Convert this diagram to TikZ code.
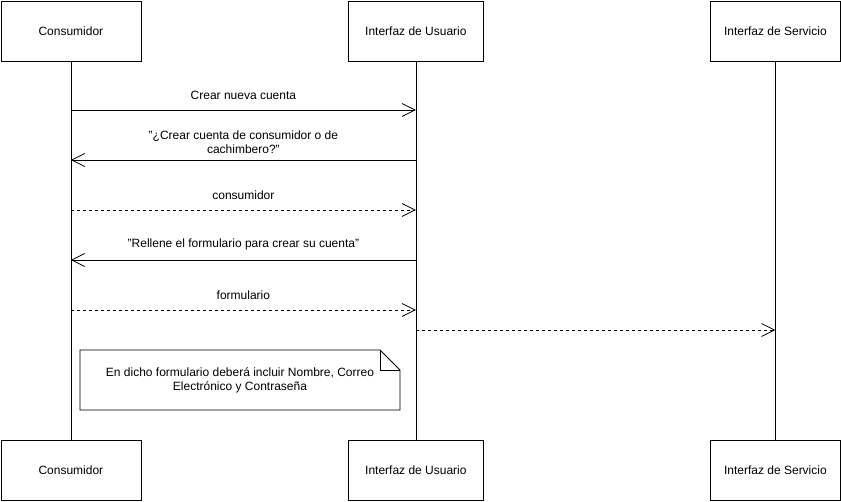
\documentclass[tikz,border=0pt]{standalone}
\usepackage{fontspec}
\setmainfont{Liberation Sans}
\usetikzlibrary{arrows.meta}
\begin{document}
\begin{tikzpicture}[x=1pt,y=-1pt,
  font=\fontsize{12}{14}\selectfont,
  actor/.style={draw,line width=0.8pt,minimum width=140pt,minimum height=60pt,inner sep=0pt,anchor=north west},
  actorS/.style={actor,minimum width=130pt},
  life/.style={line width=0.8pt},
  msg/.style={line width=0.8pt,-{Straight Barb[length=13pt,width=13pt,line width=0.8pt]}},
  ret/.style={msg,dash pattern=on 3pt off 3pt},
  lbl/.style={inner sep=0pt,align=center}
]
\useasboundingbox (0,0) rectangle (841,501);
% actors top
\node[actor] (c1) at (0.5,0.5) {Consumidor};
\node[actor,minimum width=135pt] (u1) at (348,0.5) {Interfaz de Usuario};
\node[actorS] (s1) at (710,0.5) {Interfaz de Servicio};
% actors bottom
\node[actor] (c2) at (0.5,440) {Consumidor};
\node[actor,minimum width=135pt] (u2) at (348,440) {Interfaz de Usuario};
\node[actorS] (s2) at (710,440) {Interfaz de Servicio};
% lifelines
\draw[life] (c1.south) -- (c2.north);
\draw[life] (u1.south) -- (u2.north);
\draw[life] (s1.south) -- (s2.north);
% message points
\coordinate (ca) at (c1.south |- 0,110);
\coordinate (ua) at (u1.south |- 0,110);
\coordinate (cb) at (c1.south |- 0,160);
\coordinate (ub) at (u1.south |- 0,160);
\coordinate (cc) at (c1.south |- 0,210);
\coordinate (uc) at (u1.south |- 0,210);
\coordinate (cd) at (c1.south |- 0,260);
\coordinate (ud) at (u1.south |- 0,260);
\coordinate (ce) at (c1.south |- 0,310);
\coordinate (ue) at (u1.south |- 0,310);
\coordinate (uf) at (u1.south |- 0,330);
\coordinate (sf) at (s1.south |- 0,330);
% messages
\draw[msg] (ca) -- node[lbl,above=10pt] (la) {Crear nueva cuenta} (ua);
\draw[msg] (ub) -- node[lbl,above=6pt] (lb) {"¿Crear cuenta de consumidor o de\\cachimbero?"} (cb);
\draw[ret] (cc) -- node[lbl,above=10pt] (lc) {consumidor} (uc);
\draw[msg] (ud) -- node[lbl,above=10pt] (ld) {"Rellene el formulario para crear su cuenta"} (cd);
\draw[ret] (ce) -- node[lbl,above=10pt] (le) {formulario} (ue);
\draw[ret] (uf) -- (sf);
% note
\draw[line width=0.8pt,fill=white] (80,350) -- (380,350) -- (400,370) -- (400,410) -- (80,410) -- cycle;
\draw[line width=0.8pt] (380,350) -- (380,370) -- (400,370);
\node[lbl] (note) at (240,380) {En dicho formulario deberá incluir Nombre, Correo\\Electrónico y Contraseña};
\end{tikzpicture}
\end{document}
